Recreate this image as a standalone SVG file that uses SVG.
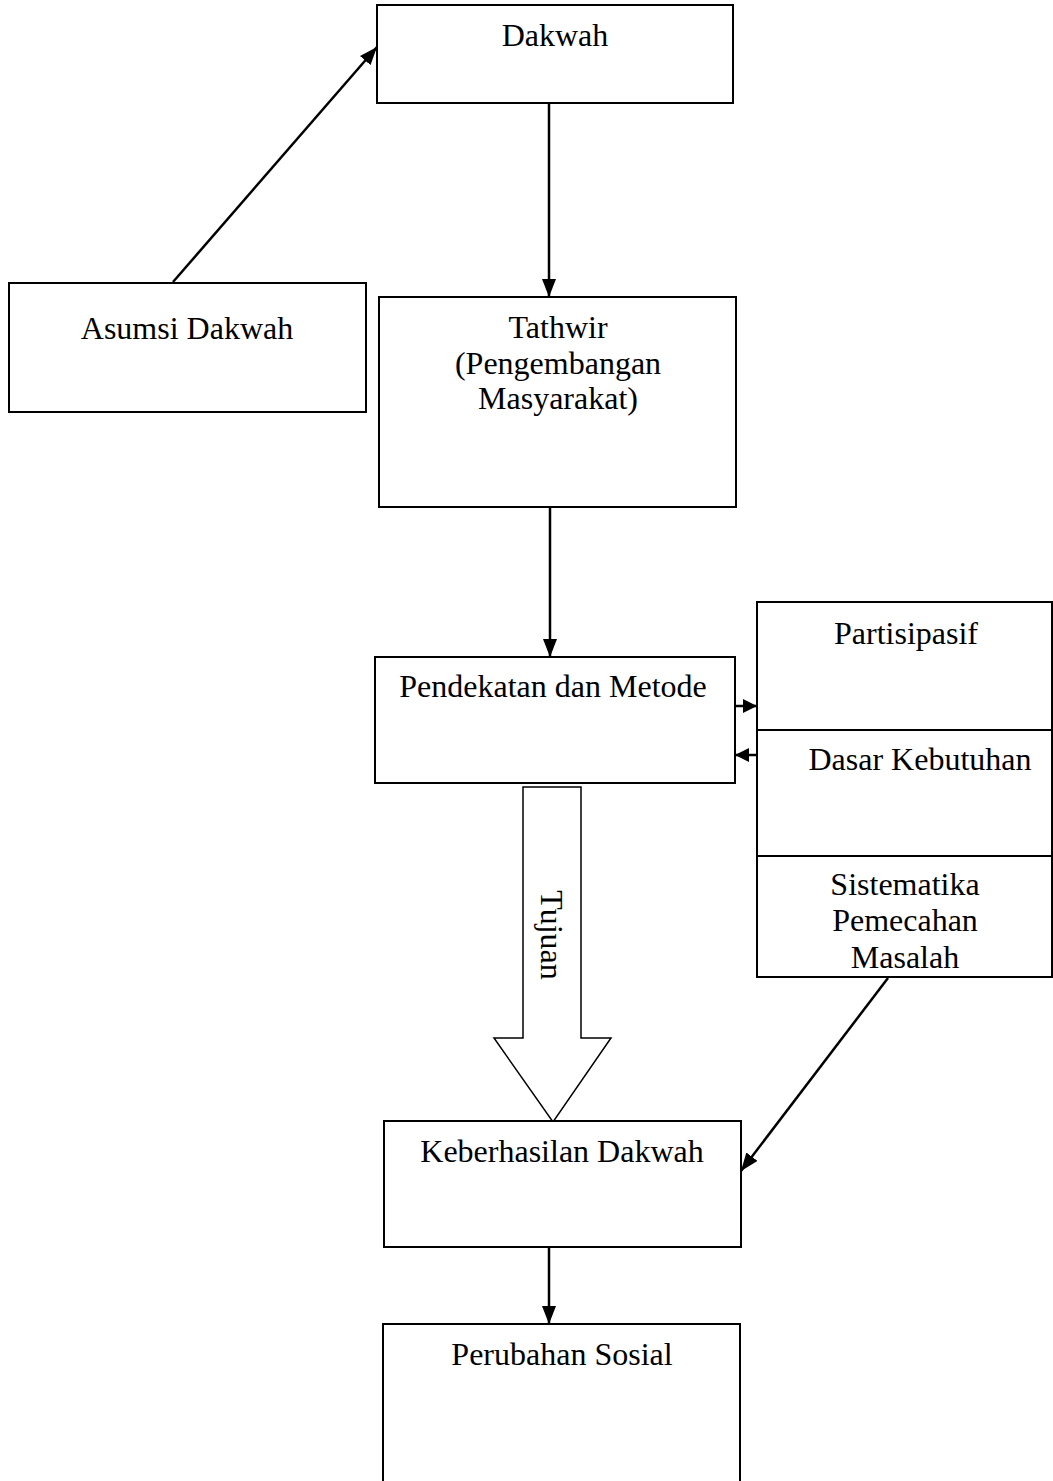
<svg xmlns="http://www.w3.org/2000/svg" width="1053" height="1481" viewBox="0 0 1053 1481">
<style>
.box{fill:#fff;stroke:#000;stroke-width:2}
.t{font-family:"Liberation Serif","Times New Roman",serif;font-size:32px;fill:#000;text-anchor:middle}
.c{fill:none;stroke:#000;stroke-width:2.5}
</style>
<defs>
<marker id="ah" markerUnits="userSpaceOnUse" markerWidth="18" markerHeight="14" refX="18" refY="7" orient="auto">
<path d="M0,0 L18,7 L0,14 Z" fill="#000"/>
</marker>
<marker id="ahs" markerUnits="userSpaceOnUse" markerWidth="14" markerHeight="14" refX="14" refY="7" orient="auto">
<path d="M0,0 L14,7 L0,14 Z" fill="#000"/>
</marker>
</defs>
<rect width="1053" height="1481" fill="#fff"/>
<g id="dakwah"><rect class="box" x="377" y="5" width="356" height="98"/><text class="t" x="555" y="46">Dakwah</text></g>
<g id="asumsi"><rect class="box" x="9" y="283" width="357" height="129"/><text class="t" x="187" y="339">Asumsi Dakwah</text></g>
<g id="tathwir"><rect class="box" x="379" y="297" width="357" height="210"/><text class="t" x="558" y="338">Tathwir</text><text class="t" x="558" y="374">(Pengembangan</text><text class="t" x="558" y="409">Masyarakat)</text></g>
<g id="pendekatan"><rect class="box" x="375" y="657" width="360" height="126"/><text class="t" x="553" y="697">Pendekatan dan Metode</text></g>
<g id="partisipasif"><rect class="box" x="757" y="602" width="295" height="128"/><text class="t" x="906" y="644">Partisipasif</text></g>
<g id="dasar"><rect class="box" x="757" y="730" width="295" height="126"/><text class="t" x="920" y="770">Dasar Kebutuhan</text></g>
<g id="sistematika"><rect class="box" x="757" y="856" width="295" height="121"/><text class="t" x="905" y="895">Sistematika</text><text class="t" x="905" y="931">Pemecahan</text><text class="t" x="905" y="968">Masalah</text></g>
<g id="tujuan"><polygon points="523,787 581,787 581,1038 611,1038 553,1122 494,1038 523,1038" fill="#fff" stroke="#000" stroke-width="1.5"/><text class="t" transform="translate(541,935) rotate(90)">Tujuan</text></g>
<g id="keberhasilan"><rect class="box" x="384" y="1121" width="357" height="126"/><text class="t" x="562" y="1162">Keberhasilan Dakwah</text></g>
<g id="perubahan"><rect class="box" x="383" y="1324" width="357" height="170"/><text class="t" x="562" y="1365">Perubahan Sosial</text></g>
<g id="connectors">
<line class="c" x1="173" y1="282" x2="377" y2="47" marker-end="url(#ah)"/>
<line class="c" x1="549" y1="103" x2="549" y2="297" marker-end="url(#ah)"/>
<line class="c" x1="550" y1="507" x2="550" y2="657" marker-end="url(#ah)"/>
<line class="c" x1="735" y1="706" x2="757" y2="706" marker-end="url(#ahs)"/>
<line class="c" x1="757" y1="755" x2="735" y2="755" marker-end="url(#ahs)"/>
<line class="c" x1="888" y1="978" x2="741" y2="1171" marker-end="url(#ah)"/>
<line class="c" x1="549" y1="1247" x2="549" y2="1324" marker-end="url(#ah)"/>
</g>
</svg>
